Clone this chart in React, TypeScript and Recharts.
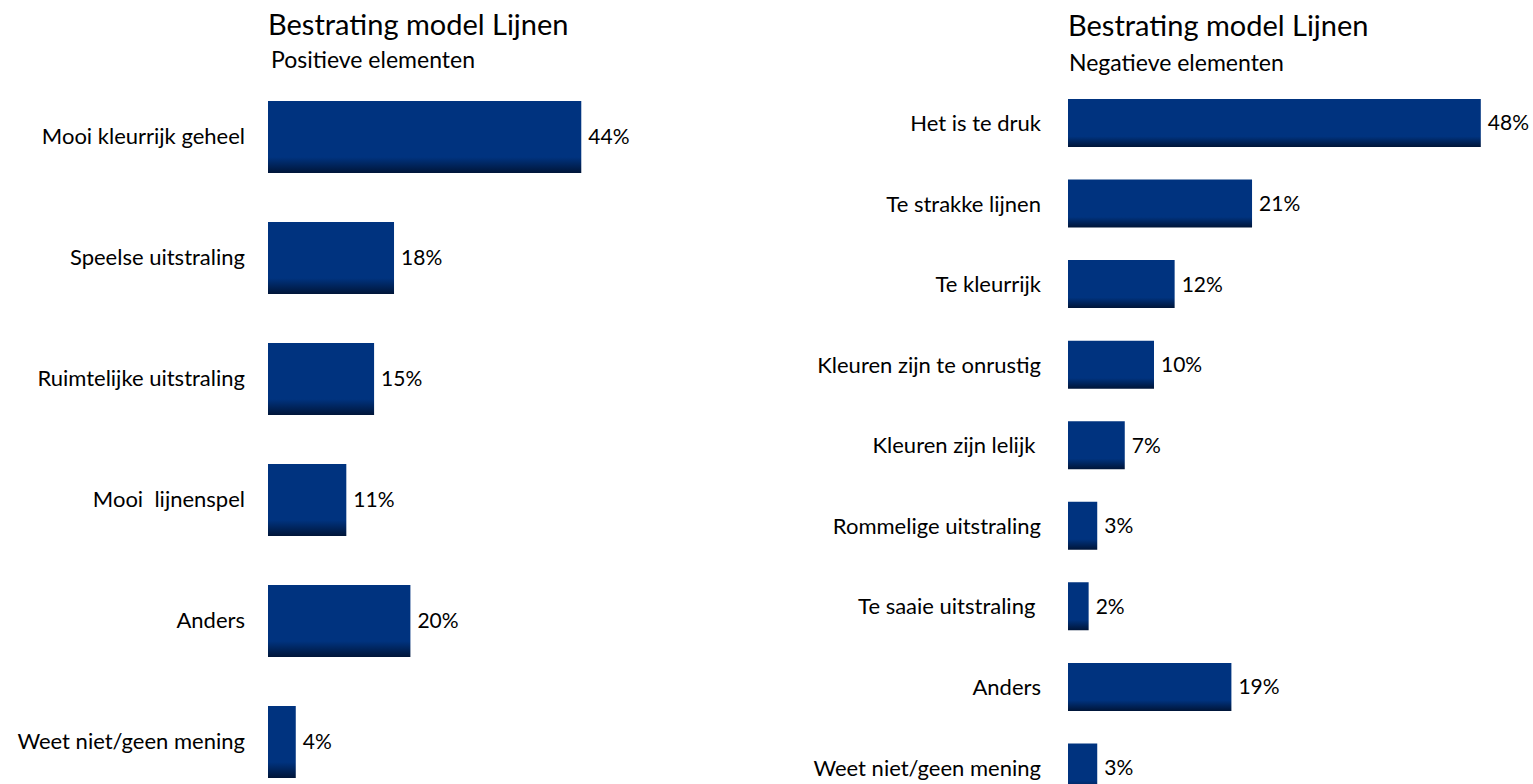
import React from "react";
import { BarChart, Bar, XAxis, YAxis, LabelList } from "recharts";

const posCategories = [
  "Mooi kleurrijk geheel",
  "Speelse uitstraling",
  "Ruimtelijke uitstraling",
  "Mooi  lijnenspel",
  "Anders",
  "Weet niet/geen mening",
];
const posValues = [44, 17.7, 14.9, 11, 20, 3.9];

const negCategories = [
  "Het is te druk",
  "Te strakke lijnen",
  "Te kleurrijk",
  "Kleuren zijn te onrustig",
  "Kleuren zijn lelijk ",
  "Rommelige uitstraling",
  "Te saaie uitstraling ",
  "Anders",
  "Weet niet/geen mening",
];
const negValues = [48, 21.4, 12.4, 10, 6.6, 3.4, 2.4, 19, 3.4];

const title = "Bestrating model Lijnen";
const posSubtitle = "Positieve elementen";
const negSubtitle = "Negatieve elementen";

const FONT = "Lato, 'Open Sans', sans-serif";

const posData = posCategories.map((name, i) => ({ name, value: posValues[i] }));
const negData = negCategories.map((name, i) => ({ name, value: negValues[i] }));

const fmt = (v: any) => `${Math.round(Number(v))}%`;

function Grad({ id }: { id: string }) {
  return (
    <defs>
      <linearGradient id={id} x1="0" y1="0" x2="0" y2="1">
        <stop offset="0%" stopColor="#00337f" />
        <stop offset="78%" stopColor="#00337f" />
        <stop offset="100%" stopColor="#001538" />
      </linearGradient>
    </defs>
  );
}

const CatTick = (props: any) => {
  const { x, y, payload } = props;
  return (
    <text
      x={x}
      y={y}
      dy="0.355em"
      textAnchor="end"
      xmlSpace="preserve"
      style={{ whiteSpace: "pre" }}
      fontSize={22}
      fill="#000"
      fontFamily={FONT}
    >
      {payload.value}
    </text>
  );
};

const labelStyle: any = { fontSize: 21, fill: "#000", fontFamily: FONT };

const textBase: any = { position: "absolute", color: "#000", whiteSpace: "pre", lineHeight: 1 };

export default function App() {
  return (
    <div
      style={{
        position: "fixed",
        left: 0,
        top: 0,
        width: 1533,
        height: 784,
        overflow: "hidden",
        background: "#fff",
        fontFamily: FONT,
      }}
    >
      <div style={{ ...textBase, left: 268, top: 9, fontSize: 29 }}>{title}</div>
      <div style={{ ...textBase, left: 271, top: 47.5, fontSize: 23 }}>{posSubtitle}</div>
      <div style={{ ...textBase, left: 1068, top: 10, fontSize: 29 }}>{title}</div>
      <div style={{ ...textBase, left: 1069, top: 50.5, fontSize: 23 }}>{negSubtitle}</div>

      <div style={{ position: "absolute", left: 0, top: 0 }}>
        <BarChart
          width={704}
          height={802}
          data={posData}
          layout="vertical"
          margin={{ top: 76, right: 80, bottom: 0, left: 0 }}
        >
          <Grad id="gradPos" />
          <XAxis type="number" domain={[0, 50]} hide />
          <YAxis
            type="category"
            dataKey="name"
            width={268}
            interval={0}
            tickLine={false}
            axisLine={false}
            tickSize={0}
            tickMargin={23}
            tick={<CatTick />}
          />
          <Bar dataKey="value" fill="url(#gradPos)" barSize={72} isAnimationActive={false}>
            <LabelList dataKey="value" position="right" offset={7} formatter={fmt} style={labelStyle} />
          </Bar>
        </BarChart>
      </div>

      <div style={{ position: "absolute", left: 780, top: 0 }}>
        <BarChart
          width={753}
          height={808}
          data={negData}
          layout="vertical"
          margin={{ top: 83, right: 35, bottom: 0, left: 0 }}
        >
          <Grad id="gradNeg" />
          <XAxis type="number" domain={[0, 50]} hide />
          <YAxis
            type="category"
            dataKey="name"
            width={288}
            interval={0}
            tickLine={false}
            axisLine={false}
            tickSize={0}
            tickMargin={27}
            tick={<CatTick />}
          />
          <Bar dataKey="value" fill="url(#gradNeg)" barSize={48} isAnimationActive={false}>
            <LabelList dataKey="value" position="right" offset={7} formatter={fmt} style={labelStyle} />
          </Bar>
        </BarChart>
      </div>
    </div>
  );
}
